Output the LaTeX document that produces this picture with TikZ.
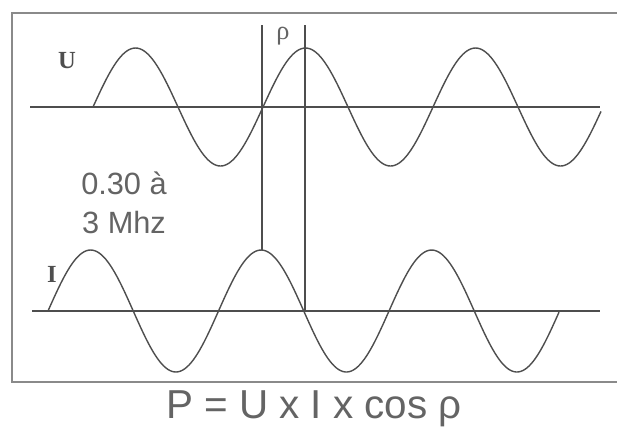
\documentclass[tikz,border=0pt]{standalone}
\usepackage{fontspec}
\setmainfont{Liberation Sans}
\newfontfamily\wavefont{Liberation Serif}
\definecolor{framegray}{HTML}{8A8A8A}
\definecolor{wavegray}{HTML}{4E4E4E}
\definecolor{textgray}{HTML}{646464}
\tikzset{
	frame/.style = {draw = framegray, line width = 1.1pt},
	wave/.style = {draw = wavegray, line width = 0.8pt},
	axis/.style = {draw = wavegray, line width = 0.6pt},
	marker/.style = {draw = wavegray, line width = 0.7pt},
	wavename/.style = {text = wavegray, font = \wavefont\bfseries\fontsize{14}{16}\selectfont},
	note/.style = {text = textgray, font = \fontsize{17.5}{22}\selectfont, align = center}
}
\begin{document}
\begin{tikzpicture}[x = 0.02cm, y = -0.02cm]
	\useasboundingbox (0, 0) rectangle (617, 434);
	% frame
	\draw [frame] (617, 13) -- (12, 13) -- (12, 382) -- (617, 382);
	% voltage U
	\begin{scope} []
	\draw [axis] (30, 107) -- (600, 107);
	\draw [wave] plot [domain = 93:601, samples = 240] (\x, {107 - 59*sin((\x - 93)*2.1176)});
	\node [wavename] (ulabel) at (67, 61) {U};
	\end{scope}
	% current I
	\begin{scope} []
	\draw [axis] (32, 311) -- (600, 311);
	\draw [wave] plot [domain = 48:559, samples = 240] (\x, {311 - 61*sin((\x - 48)*2.1114)});
	\node [wavename] (ilabel) at (52, 274) {I};
	\end{scope}
	% phase shift
	\coordinate (utop) at (262, 25);
	\coordinate (ipeak) at (262, 250);
	\coordinate (vtop) at (305, 25);
	\coordinate (izero) at (305, 311);
	\draw [marker] (utop) -- (ipeak);
	\draw [marker] (vtop) -- (izero);
	\node [text = textgray, font = \wavefont\fontsize{15}{17}\selectfont] (phase) at (283, 36) {ρ};
	% frequency
	\node [note] (freq) at (124, 203) {0.30 à\\3 Mhz};
	% power
	\node [text = textgray, font = \fontsize{23}{27}\selectfont] (power) at (314, 409) {P = U x I x cos ρ};
\end{tikzpicture}
\end{document}
